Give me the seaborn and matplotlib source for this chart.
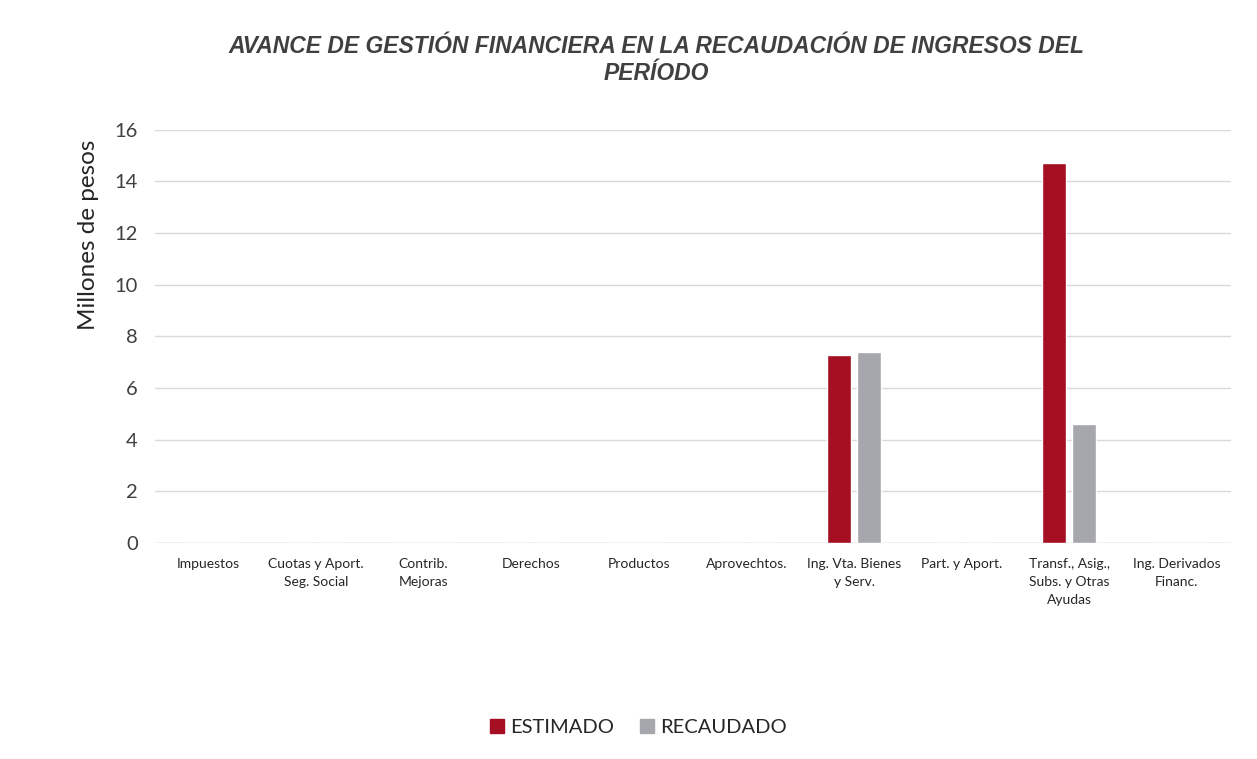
import pandas as pd
import seaborn as sns
import matplotlib.pyplot as plt

categories = ["Impuestos", "Cuotas y Aport.\nSeg. Social", "Contrib.\nMejoras", "Derechos",
              "Productos", "Aprovechtos.", "Ing. Vta. Bienes\ny Serv.", "Part. y Aport.",
              "Transf., Asig.,\nSubs. y Otras\nAyudas", "Ing. Derivados\nFinanc."]
estimado = [0, 0, 0, 0, 0, 0, 7.28, 0, 14.72, 0]
recaudado = [0, 0, 0, 0, 0, 0, 7.40, 0, 4.62, 0]
series = ["ESTIMADO", "RECAUDADO"]
colors = ["#A50F21", "#A6A6AD"]

df = pd.DataFrame({
    "cat": categories * 2,
    "serie": [series[0]] * len(categories) + [series[1]] * len(categories),
    "val": estimado + recaudado,
})

sns.set_theme(style="white")
plt.rcParams['font.family'] = ['Lato', 'DejaVu Sans']

fig = plt.figure(figsize=(12.57, 7.59), dpi=100)
ax = fig.add_axes([0.123, 0.2846, 0.856, 0.5444])

sns.barplot(data=df, x="cat", y="val", hue="serie", palette=colors,
            width=0.56, gap=0.2, ax=ax, legend=False, saturation=1)

ax.set_ylim(0, 16)
ax.set_yticks(range(0, 17, 2))
ax.yaxis.grid(True, color="#D9D9D9", linewidth=1)
ax.set_axisbelow(True)
for s in ax.spines.values():
    s.set_visible(False)
ax.axhline(0, color="#D9D9D9", linewidth=1, zorder=0)

ax.tick_params(axis="y", labelsize=14.5, labelcolor="#404040", length=0, pad=12)
ax.tick_params(axis="x", labelsize=10, labelcolor="#262626", length=0, pad=11)
for lbl in ax.get_xticklabels():
    lbl.set_linespacing(1.6)
ax.set_xlabel("")
ax.set_ylabel("Millones de pesos", fontsize=17.5, color="#262626", labelpad=12)
ax.yaxis.set_label_coords(-0.052, 0.746)

fig.text(0.522, 0.921, "AVANCE DE GESTIÓN FINANCIERA EN LA RECAUDACIÓN DE INGRESOS DEL\nPERÍODO",
         ha="center", va="center", fontsize=16.5, fontweight="bold", fontstyle="italic",
         family="Liberation Sans", color="#404040", linespacing=1.25)

handles = [plt.Rectangle((0, 0), 1, 1, color=c) for c in colors]
fig.legend(handles, series, loc="center", bbox_to_anchor=(0.508, 0.041), ncol=2,
           frameon=False, fontsize=14.5, handlelength=0.7, handleheight=0.7,
           handletextpad=0.3, columnspacing=1.3, labelcolor="#262626")

fig.savefig("out.png", dpi=100, facecolor="white")
